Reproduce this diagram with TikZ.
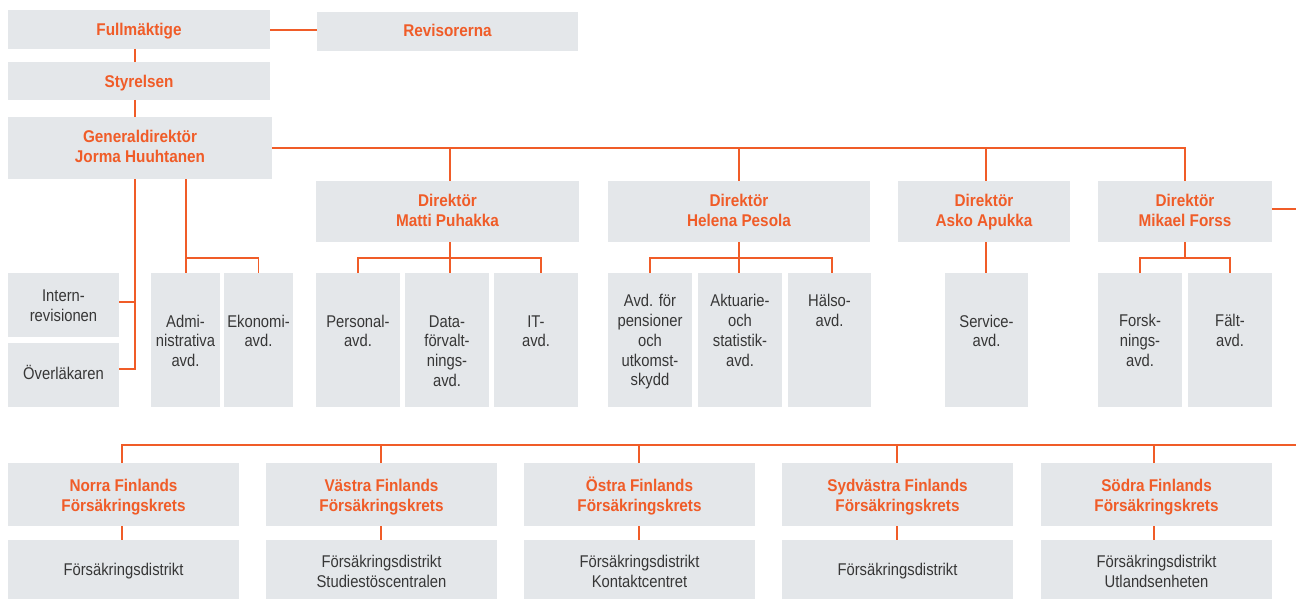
\documentclass[tikz,border=0pt]{standalone}
\usepackage{fontspec}
\setmainfont{Liberation Sans}[FakeStretch=0.87]
\newfontfamily\boldf{Liberation Sans}[FakeStretch=0.9]
\usetikzlibrary{calc}
\definecolor{org}{RGB}{240,92,40}
\definecolor{boxg}{RGB}{228,231,234}
\definecolor{txtg}{RGB}{55,55,55}
\newcommand\obox[5]{\node[box, minimum width={#4-(#2)}, minimum height={#5-(#3)}] (#1) at ({(#2+#4)/2},{(#3+#5)/2}) {};}
\newcommand\otxt[4]{\node[#2, anchor=north] (#1T) at ($(#1.north)+(0,#3)$) {\rule{0pt}{17pt}#4};}
\begin{document}
\begin{tikzpicture}[x=1pt,y=-1pt,
 box/.style={fill=boxg, draw=none, inner sep=0pt, outer sep=0pt},
 btxt/.style={text=org, font=\boldf\bfseries\fontsize{17}{19.8}\selectfont, align=center, inner sep=0pt},
 rtxt/.style={text=txtg, font=\fontsize{17}{19.7}\selectfont, align=center, inner sep=0pt},
 con/.style={draw=org, line width=1.25pt}]
\useasboundingbox (0,0) rectangle (1296,599);
% boxes
\obox{full}{8}{10}{270}{49}
\obox{rev}{317}{12}{578}{51}
\obox{sty}{8}{62}{270}{100}
\obox{gd}{8}{117}{272}{179}
\obox{dp}{316}{181}{579}{242}
\obox{dh}{608}{181}{870}{242}
\obox{da}{898}{181}{1070}{242}
\obox{dm}{1098}{181}{1272}{242}
\obox{intr}{8}{273}{119}{337}
\obox{overl}{8}{343}{119}{407}
\obox{adm}{151}{273}{220}{407}
\obox{eko}{224}{273}{293}{407}
\obox{pers}{316}{273}{400}{407}
\obox{data}{405}{273}{489}{407}
\obox{it}{494}{273}{578}{407}
\obox{pens}{608}{273}{692}{407}
\obox{akt}{698}{273}{782}{407}
\obox{hal}{788}{273}{871}{407}
\obox{serv}{945}{273}{1028}{407}
\obox{forsk}{1098}{273}{1182}{407}
\obox{falt}{1188}{273}{1272}{407}
\obox{k1}{8}{463}{239}{526}
\obox{k2}{266}{463}{497}{526}
\obox{k3}{524}{463}{755}{526}
\obox{k4}{782}{463}{1013}{526}
\obox{k5}{1041}{463}{1272}{526}
\obox{d1}{8}{540}{239}{599}
\obox{d2}{266}{540}{497}{599}
\obox{d3}{524}{540}{755}{599}
\obox{d4}{782}{540}{1013}{599}
\obox{d5}{1041}{540}{1272}{599}
% helper coordinates
\coordinate (vx) at (135,0);
\coordinate (ib) at (135,302);
\coordinate (ov) at (135,369);
\coordinate (ax) at (186,258);
\coordinate (by) at (0,258);
\coordinate (fy) at (0,30);
\coordinate (re) at (1296,209);
\coordinate (bl) at (1296,445);
\coordinate (px) at (450,0);
\coordinate (itx) at (541,0);
\coordinate (halx) at (832,0);
\coordinate (ax2) at (986,0);
% connectors
\draw[con] (full.east |- fy) -- (rev.west |- fy);
\draw[con] (full.south -| vx) -- (sty.north -| vx);
\draw[con] (sty.south -| vx) -- (gd.north -| vx);
\draw[con] (gd.south -| vx) -- (ov) -- (ov -| overl.east);
\draw[con] (ib -| intr.east) -- (ib);
\draw[con] (gd.south -| ax) -- (ax) -- (adm.north -| ax);
\draw[con] (ax) -| (eko.north);
\draw[con] (gd.east) -- (gd.east -| dm.north) -- (dm.north);
\draw[con] (gd.east -| px) -- (dp.north -| px);
\draw[con] (gd.east -| dh.north) -- (dh.north);
\draw[con] (gd.east -| ax2) -- (da.north -| ax2);
\draw[con] (dp.south -| px) -- (data.north -| px);
\draw[con] (pers.north) -- (pers.north |- by) -| (it.north -| itx);
\draw[con] (dh.south) -- (dh.south |- akt.north);
\draw[con] (pens.north) -- (pens.north |- by) -| (hal.north -| halx);
\draw[con] (da.south -| ax2) -- (serv.north -| ax2);
\draw[con] (dm.south) -- (dm.south |- by);
\draw[con] (forsk.north) -- (forsk.north |- by) -| (falt.north);
\draw[con] (dm.east |- re) -- (re);
\draw[con] ([xshift=-1.5pt]k1.north) |- (bl);
\draw[con] ([xshift=-0.5pt]k2.north) -- ([xshift=-0.5pt]k2.north |- bl);
\draw[con] ([xshift=-0.5pt]k3.north) -- ([xshift=-0.5pt]k3.north |- bl);
\draw[con] ([xshift=-0.5pt]k4.north) -- ([xshift=-0.5pt]k4.north |- bl);
\draw[con] ([xshift=-2.5pt]k5.north) -- ([xshift=-2.5pt]k5.north |- bl);
\draw[con] ([xshift=-1.5pt]k1.south) -- ([xshift=-1.5pt]d1.north);
\draw[con] ([xshift=-0.5pt]k2.south) -- ([xshift=-0.5pt]d2.north);
\draw[con] ([xshift=-0.5pt]k3.south) -- ([xshift=-0.5pt]d3.north);
\draw[con] ([xshift=-0.5pt]k4.south) -- ([xshift=-0.5pt]d4.north);
\draw[con] ([xshift=-2.5pt]k5.south) -- ([xshift=-2.5pt]d5.north);
% texts
\otxt{full}{btxt}{8}{Fullmäktige}
\otxt{rev}{btxt}{7.7}{Revisorerna}
\otxt{sty}{btxt}{8.7}{Styrelsen}
\otxt{gd}{btxt}{8.3}{Generaldirektör\\Jorma Huuhtanen}
\otxt{dp}{btxt}{8}{Direktör\\Matti Puhakka}
\otxt{dh}{btxt}{8}{Direktör\\Helena Pesola}
\otxt{da}{btxt}{8}{Direktör\\Asko Apukka}
\otxt{dm}{btxt}{8}{Direktör\\Mikael Forss}
\otxt{intr}{rtxt}{11.7}{Intern-\\revisionen}
\otxt{overl}{rtxt}{19.3}{Överläkaren}
\otxt{adm}{rtxt}{37}{Admi-\\nistrativa\\avd.}
\otxt{eko}{rtxt}{37}{Ekonomi-\\avd.}
\otxt{pers}{rtxt}{37}{Personal-\\avd.}
\otxt{data}{rtxt}{37}{Data-\\förvalt-\\nings-\\avd.}
\otxt{it}{rtxt}{37}{IT-\\avd.}
\otxt{pens}{rtxt}{16.7}{Avd. för\\pensioner\\och\\utkomst-\\skydd}
\otxt{akt}{rtxt}{16.7}{Aktuarie-\\och\\statistik-\\avd.}
\otxt{hal}{rtxt}{16.7}{Hälso-\\avd.}
\otxt{serv}{rtxt}{37}{Service-\\avd.}
\otxt{forsk}{rtxt}{36.5}{Forsk-\\nings-\\avd.}
\otxt{falt}{rtxt}{36.5}{Fält-\\avd.}
\otxt{k1}{btxt}{11.7}{Norra Finlands\\Försäkringskrets}
\otxt{k2}{btxt}{11.7}{Västra Finlands\\Försäkringskrets}
\otxt{k3}{btxt}{11.7}{Östra Finlands\\Försäkringskrets}
\otxt{k4}{btxt}{11.7}{Sydvästra Finlands\\Försäkringskrets}
\otxt{k5}{btxt}{11.7}{Södra Finlands\\Försäkringskrets}
\otxt{d1}{rtxt}{18.7}{Försäkringsdistrikt}
\otxt{d2}{rtxt}{10.7}{Försäkringsdistrikt\\Studiestöscentralen}
\otxt{d3}{rtxt}{10.7}{Försäkringsdistrikt\\Kontaktcentret}
\otxt{d4}{rtxt}{18.7}{Försäkringsdistrikt}
\otxt{d5}{rtxt}{10.7}{Försäkringsdistrikt\\Utlandsenheten}
\end{tikzpicture}
\end{document}
